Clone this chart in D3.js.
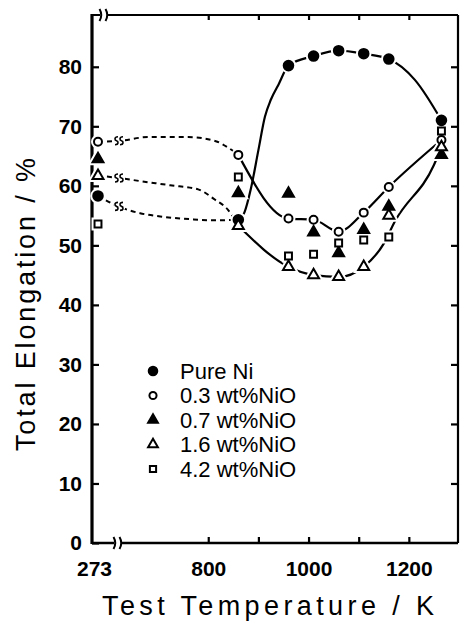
<!DOCTYPE html>
<html>
<head>
<meta charset="utf-8">
<script src="https://cdn.jsdelivr.net/npm/d3@7"></script>
<style>
  body { margin:0; background:#fff; }
  svg { display:block; }
  .tick text { font-family:"Liberation Sans", Arial, sans-serif; font-weight:bold; font-size:21px; fill:#000; }
  .tick line { stroke:#000; stroke-width:2.2; }
</style>
</head>
<body>
<div id="canvas"></div>
<script>
// values
var temps  = [273, 860, 960, 1010, 1060, 1110, 1160, 1265];
var pureNi = [58.3, 54.3, 80.2, 81.8, 82.7, 82.2, 81.3, 71.0];
var nio03  = [67.4, 65.2, 54.5, 54.3, 52.3, 55.5, 59.8, 67.7];
var nio07  = [64.5, 58.8, 58.7, 52.2, 48.7, 52.6, 56.5, 65.2];
var nio16  = [61.7, 53.3, 46.4, 45.0, 44.7, 46.4, 55.0, 66.5];
var nio42  = [53.6, 61.5, 48.2, 48.5, 50.4, 50.9, 51.4, 69.2];

var seriesNames = ['Pure Ni', '0.3 wt%NiO', '0.7 wt%NiO', '1.6 wt%NiO', '4.2 wt%NiO'];

var yTicks = [0, 10, 20, 30, 40, 50, 60, 70, 80];
var xTicks = [273, 800, 1000, 1200];
var xMinor = [900, 1100];
var xTopTicks = [800, 900, 1000, 1100, 1200];

// guide curves ([T, elongation])
var niLeft  = [[273,58.3],[567,56.3],[664,55.4],[710,54.8],[764,54.4],[813,54.2],[860,54.3]];
var niRight = [[860,54.3],[872,55.5],[885,59.5],[900,66],[913,71.6],[925,74.5],[940,77],[960,80.2],
               [1010,81.8],[1060,82.7],[1110,82.2],[1160,81.3],[1212,77.8],[1265,71.0]];
var o3Left  = [[273,67.4],[567,67.6],[680,68.2],[760,68.2],[815,67.5],[840,66.4],[860,65.2]];
var o3Right = [[860,65.2],[960,54.5],[1010,54.3],[1060,52.3],[1110,55.5],[1160,59.8],[1265,67.7]];
var t16Left = [[273,61.7],[542,61.3],[664,60.8],[724,60.1],[780,59.4],[813,57.7],[839,56.0],[860,53.3]];
var t16Right= [[860,53.3],[960,46.4],[1010,45.0],[1060,44.7],[1110,46.4],[1150,50.3],[1172,54.0],[1250,63.5],[1265,66.5]];

var W = 468, H = 623;
var m = {l:92, r:10, t:15, b:80};
var x0 = m.l, x1 = W - m.r, y0 = m.t, y1 = H - m.b;

var svg = d3.select('#canvas').append('svg')
    .attr('width', W).attr('height', H);

// broken axis: 273 K sits just right of the axis, then linear from ~640 K
var x = d3.scaleLinear().domain([273, 640, 1300]).range([98, 128, 459]);
var y = d3.scaleLinear().domain([0, 88.7]).range([y1, y0]);

// frame
svg.append('line').attr('x1',x0).attr('x2',x0).attr('y1',y0-1).attr('y2',y1+1)
    .attr('stroke','#000').attr('stroke-width',3.2);
svg.append('line').attr('x1',x0).attr('x2',x1).attr('y1',y1).attr('y2',y1)
    .attr('stroke','#000').attr('stroke-width',2.4);
svg.append('line').attr('x1',x0).attr('x2',x1).attr('y1',y0).attr('y2',y0)
    .attr('stroke','#000').attr('stroke-width',2.2);
svg.append('line').attr('x1',x1).attr('x2',x1).attr('y1',y0).attr('y2',y1)
    .attr('stroke','#000').attr('stroke-width',2.2);

// axis break marks
function breakMark(cx, cy) {
    svg.append('rect').attr('x',cx-4).attr('y',cy-3).attr('width',8).attr('height',6).attr('fill','#fff');
    [-3, 3].forEach(function(o){
        svg.append('path')
            .attr('d','M'+(cx+o-1.5)+','+(cy-6)+' Q'+(cx+o+2)+','+cy+' '+(cx+o-1.5)+','+(cy+6))
            .attr('fill','none').attr('stroke','#000').attr('stroke-width',2);
    });
}
breakMark(118, y1);
breakMark(104, y0);

// axes
var axisY = d3.axisLeft(y).tickValues(yTicks).tickSizeInner(-7).tickSizeOuter(0).tickPadding(10);
svg.append('g').attr('class','axis axis-y')
    .attr('transform','translate('+x0+',0)')
    .call(axisY)
    .call(function(g){ g.select('.domain').remove(); });

var axisYR = d3.axisRight(y).tickValues(yTicks.slice(1)).tickSizeInner(-7).tickSizeOuter(0).tickFormat('');
svg.append('g').attr('class','axis axis-yr')
    .attr('transform','translate('+x1+',0)')
    .call(axisYR)
    .call(function(g){ g.select('.domain').remove(); });

var axisX = d3.axisBottom(x).tickValues(xTicks).tickFormat(d3.format('d'))
    .tickSizeInner(-6).tickSizeOuter(0).tickPadding(18);
svg.append('g').attr('class','axis axis-x')
    .attr('transform','translate(0,'+y1+')')
    .call(axisX)
    .call(function(g){
        g.select('.domain').remove();
        g.selectAll('.tick').filter(function(d){ return d === 273; })
            .call(function(t){ t.select('line').remove(); t.select('text').attr('dx',-4); });
    });

var axisXm = d3.axisBottom(x).tickValues(xMinor).tickSizeInner(-6).tickSizeOuter(0).tickFormat('');
svg.append('g').attr('transform','translate(0,'+y1+')')
    .call(axisXm)
    .call(function(g){ g.select('.domain').remove(); });

var axisXT = d3.axisTop(x).tickValues(xTopTicks).tickSizeInner(-5).tickSizeOuter(0).tickFormat('');
svg.append('g').attr('transform','translate(0,'+y0+')')
    .call(axisXT)
    .call(function(g){ g.select('.domain').remove(); });

// axis titles
svg.append('text')
    .attr('x', 102).attr('y', 615)
    .attr('textLength', 332).attr('lengthAdjust','spacing')
    .style('font-family','"Liberation Sans", Arial, sans-serif')
    .style('font-size','27px')
    .text('Test Temperature / K');

svg.append('text')
    .attr('transform','translate(35,451) rotate(-90)')
    .attr('textLength', 293).attr('lengthAdjust','spacing')
    .style('font-family','"Liberation Sans", Arial, sans-serif')
    .style('font-size','27px')
    .text('Total Elongation / %');

// curves
var line = d3.line()
    .x(function(d){ return x(d[0]); })
    .y(function(d){ return y(d[1]); })
    .curve(d3.curveMonotoneX);

var plot = svg.append('g');
[niLeft, o3Left, t16Left].forEach(function(c){
    plot.append('path').attr('d', line(c))
        .attr('fill','none').attr('stroke','#000')
        .attr('stroke-width',2).attr('stroke-dasharray','5,4');
});
[niRight, o3Right, t16Right].forEach(function(c){
    plot.append('path').attr('d', line(c))
        .attr('fill','none').attr('stroke','#000').attr('stroke-width',2.2);
});

// "ss" breaks on the dashed curves
[[niLeft,119],[o3Left,119],[t16Left,119]].forEach(function(b){
    var c = b[0];
    var yy = y(c[0][1] + (c[1][1]-c[0][1]) * ((x.invert(b[1]) - c[0][0]) / (c[1][0]-c[0][0])));
    plot.append('rect').attr('x',b[1]-5).attr('y',yy-3).attr('width',11).attr('height',6).attr('fill','#fff');
    [-2.5, 2.5].forEach(function(o){
        var cx = b[1] + o;
        plot.append('path')
            .attr('d','M'+(cx+1.5)+','+(yy-4)+' C'+(cx-2.5)+','+(yy-4)+' '+(cx-2)+','+(yy-0.5)+' '+cx+','+yy+
                      ' C'+(cx+2)+','+(yy+0.5)+' '+(cx+2.5)+','+(yy+4)+' '+(cx-1.5)+','+(yy+4))
            .attr('fill','none').attr('stroke','#000').attr('stroke-width',1.6);
    });
});

// markers
var styles = [
    {type:d3.symbolCircle,   size:72, fill:'#000'},
    {type:d3.symbolCircle,   size:50, fill:'#fff'},
    {type:d3.symbolTriangle, size:52, fill:'#000'},
    {type:d3.symbolTriangle, size:52, fill:'#fff'},
    {type:d3.symbolSquare,   size:48, fill:'#fff'}
];
var allSeries = [pureNi, nio03, nio07, nio16, nio42];

var rows = [];
allSeries.forEach(function(vals, s){
    vals.forEach(function(v, i){ rows.push({s:s, t:temps[i], v:v}); });
});

var sym = function(d){ return d3.symbol().type(styles[d.s].type).size(styles[d.s].size)(); };

plot.selectAll('.halo').data(rows).enter().append('path')
    .attr('class','halo')
    .attr('transform',function(d){ return 'translate('+x(d.t)+','+y(d.v)+')'; })
    .attr('d', sym)
    .attr('fill','#fff').attr('stroke','#fff').attr('stroke-width',6);

plot.selectAll('.pt').data(rows).enter().append('path')
    .attr('class','pt')
    .attr('transform',function(d){ return 'translate('+x(d.t)+','+y(d.v)+')'; })
    .attr('d', sym)
    .attr('fill',function(d){ return styles[d.s].fill; })
    .attr('stroke','#000').attr('stroke-width',2);

// legend
var legend = svg.append('g').attr('transform','translate(153,371)');
var items = legend.selectAll('.item').data(seriesNames).enter().append('g')
    .attr('class','item')
    .attr('transform',function(d,i){ return 'translate(0,'+(i*24.5)+')'; });
items.append('path')
    .attr('d',function(d,i){ return d3.symbol().type(styles[i].type).size(styles[i].size*0.8)(); })
    .attr('fill',function(d,i){ return styles[i].fill; })
    .attr('stroke','#000').attr('stroke-width',2);
items.append('text')
    .attr('x',27).attr('y',7.5)
    .style('font-family','"Liberation Sans", Arial, sans-serif')
    .style('font-size','22px')
    .text(function(d){ return d; });
</script>
</body>
</html>
